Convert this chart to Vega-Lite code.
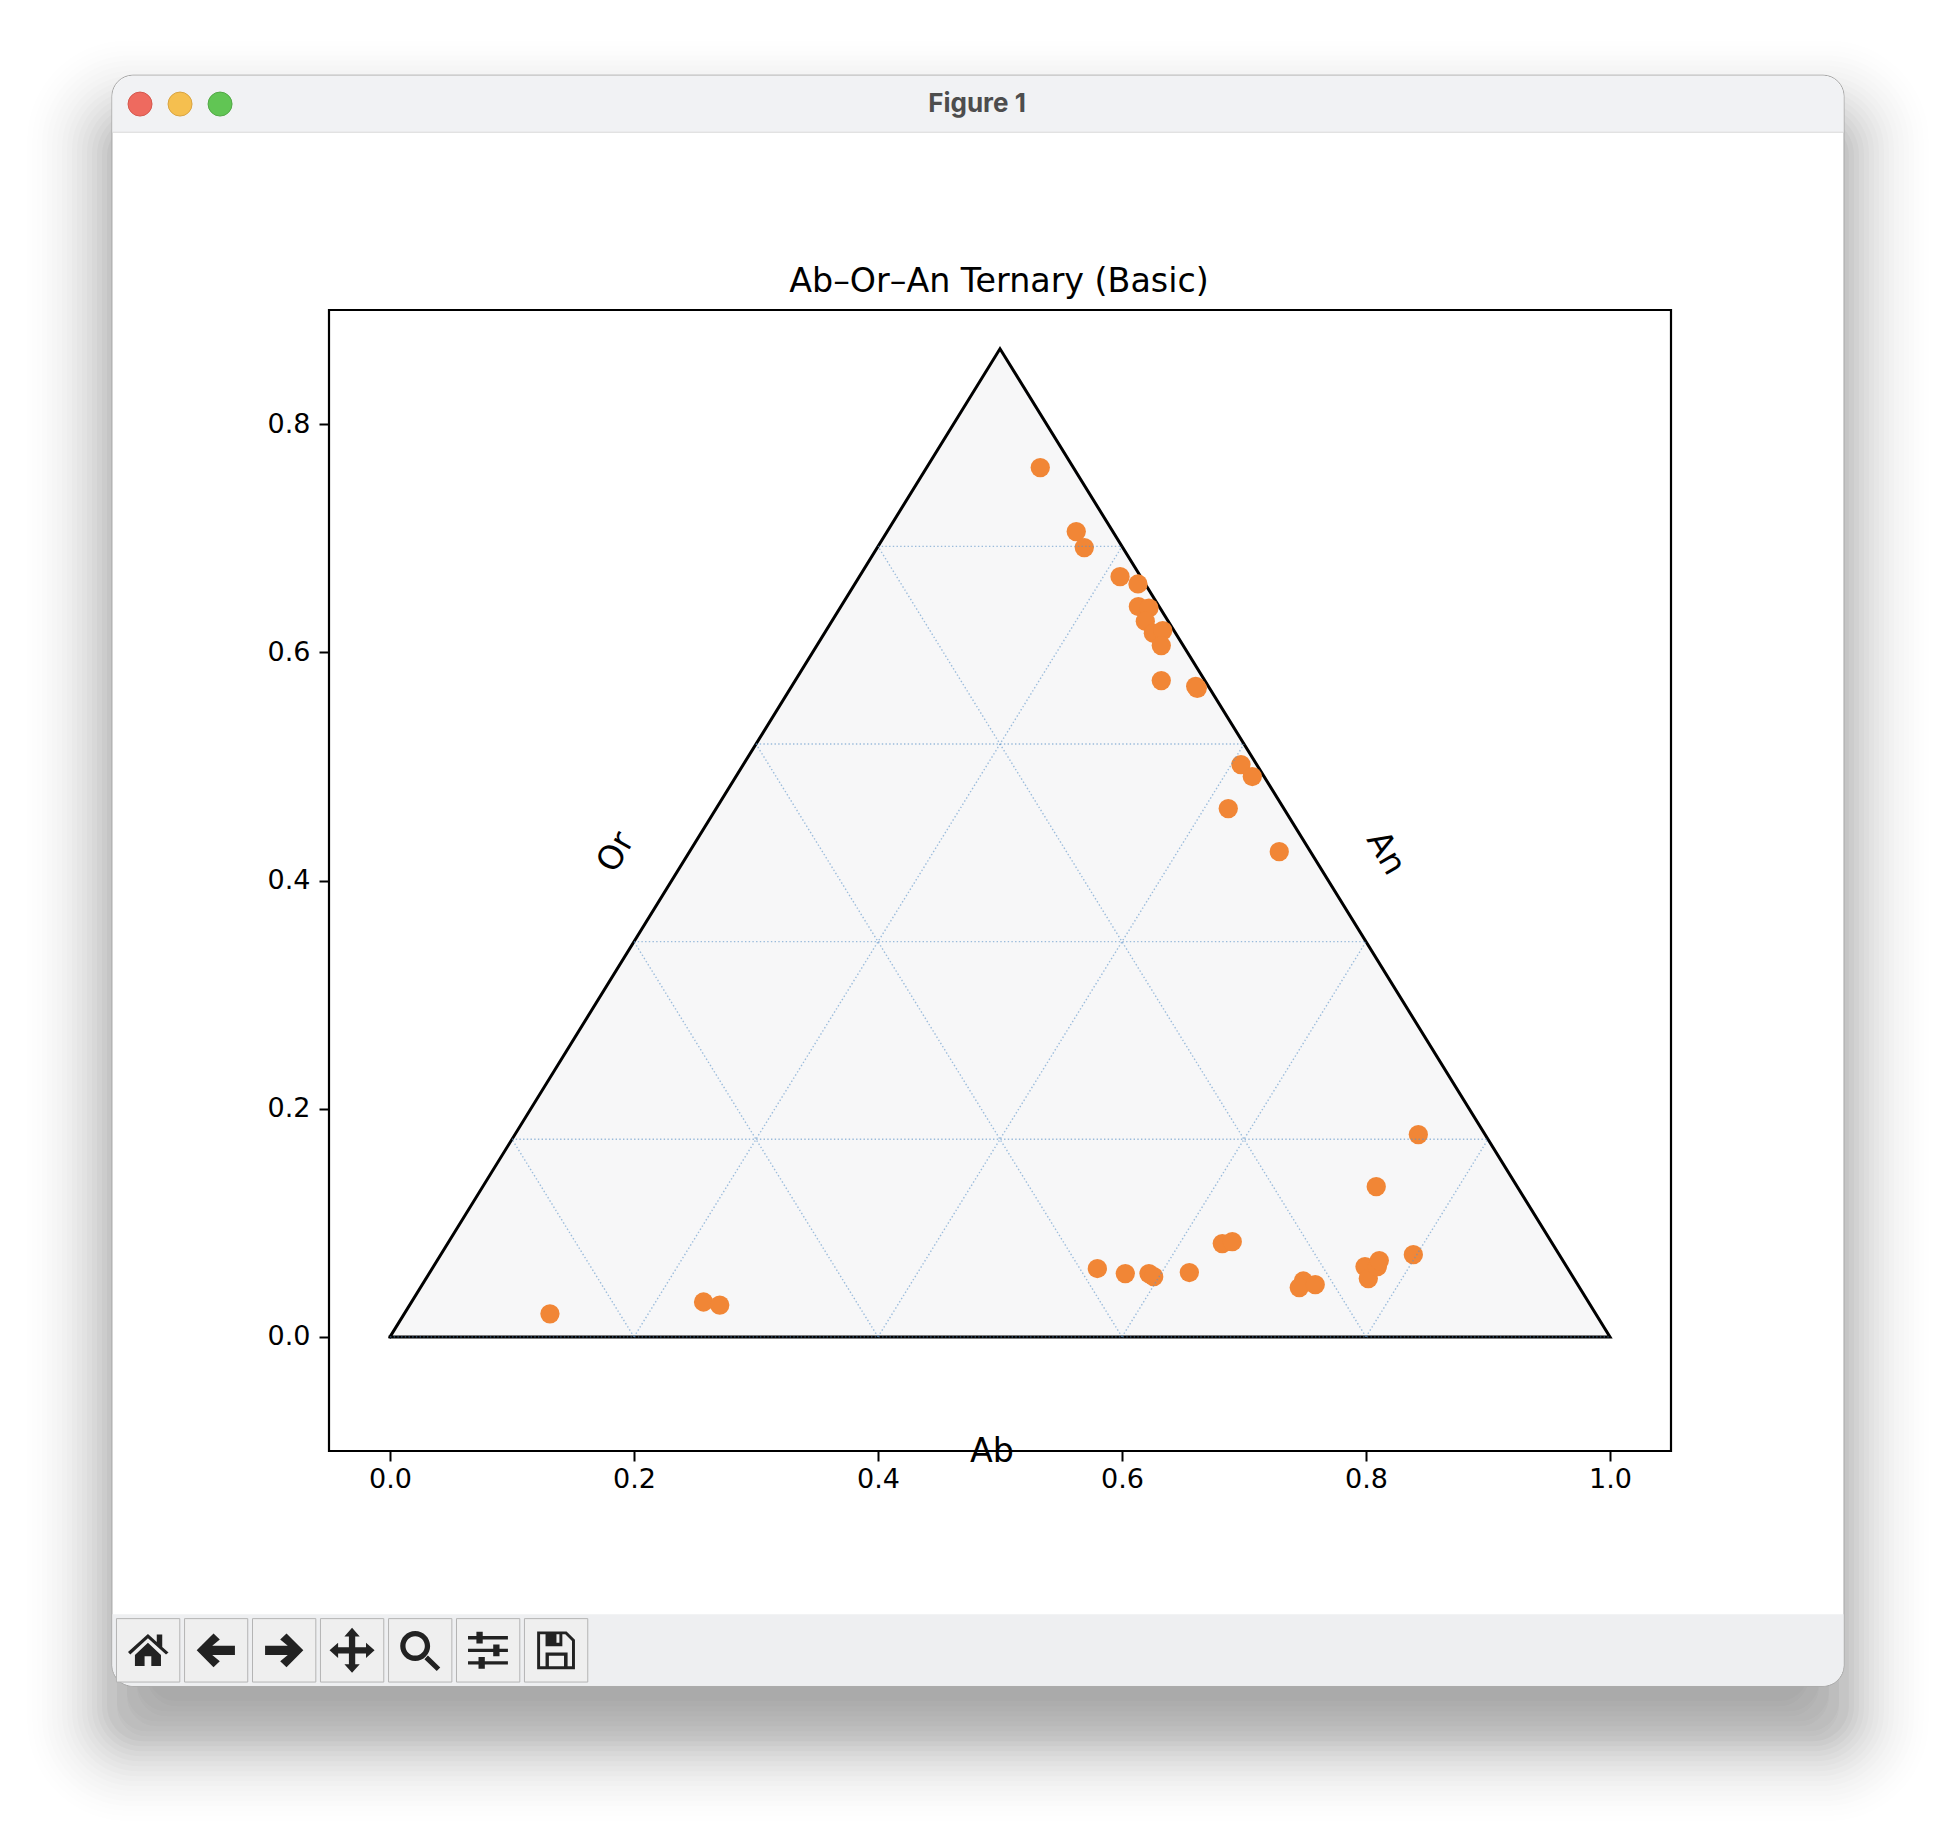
{"$schema":"https://vega.github.io/schema/vega-lite/v6.json","width":1342,"height":1141,"autosize":{"type":"none"},"padding":{"left":329,"top":310,"right":285,"bottom":383},"background":"#ffffff",
"config":{"view":{"stroke":null},"axis":{"domain":false,"grid":false,"ticks":true,"tickSize":10,"tickWidth":2,"tickColor":"#000000","labelFont":"DejaVu Sans","labelFontSize":27,"labelColor":"#000000","title":null,"labelFlush":false,"labelOverlap":false}},
"datasets":{
"triangle":[{"x":0,"y":0,"y0":0,"o":1},{"x":0.5,"y":0.8660254,"y0":0,"o":2},{"x":1,"y":0,"y0":0,"o":3},{"x":0,"y":0,"y0":0,"o":4}],
"grid":[
{"x1":0.1,"y1":0.1732,"x2":0.9,"y2":0.1732},{"x1":0.2,"y1":0.3464,"x2":0.8,"y2":0.3464},{"x1":0.3,"y1":0.5196,"x2":0.7,"y2":0.5196},{"x1":0.4,"y1":0.6928,"x2":0.6,"y2":0.6928},
{"x1":0.2,"y1":0,"x2":0.6,"y2":0.6928},{"x1":0.4,"y1":0,"x2":0.7,"y2":0.5196},{"x1":0.6,"y1":0,"x2":0.8,"y2":0.3464},{"x1":0.8,"y1":0,"x2":0.9,"y2":0.1732},
{"x1":0.2,"y1":0,"x2":0.1,"y2":0.1732},{"x1":0.4,"y1":0,"x2":0.2,"y2":0.3464},{"x1":0.6,"y1":0,"x2":0.3,"y2":0.5196},{"x1":0.8,"y1":0,"x2":0.4,"y2":0.6928},
{"x1":0,"y1":0,"x2":1,"y2":0}],
"points":[
{"x":0.5330,"y":0.7619},{"x":0.5625,"y":0.7058},{"x":0.5691,"y":0.6918},{"x":0.5984,"y":0.6663},{"x":0.6131,"y":0.6599},{"x":0.6134,"y":0.6401},{"x":0.6221,"y":0.6388},{"x":0.6191,"y":0.6272},{"x":0.6257,"y":0.6167},{"x":0.6334,"y":0.6190},{"x":0.6322,"y":0.6059},{"x":0.6322,"y":0.5752},{"x":0.6604,"y":0.5702},{"x":0.6617,"y":0.5684},{"x":0.6975,"y":0.5016},{"x":0.7068,"y":0.4911},{"x":0.6871,"y":0.4630},{"x":0.7289,"y":0.4253},
{"x":0.5798,"y":0.0599},{"x":0.6027,"y":0.0555},{"x":0.6221,"y":0.0555},{"x":0.6260,"y":0.0528},{"x":0.6552,"y":0.0564},{"x":0.6822,"y":0.0818},{"x":0.6904,"y":0.0835},{"x":0.7486,"y":0.0490},{"x":0.7453,"y":0.0432},{"x":0.7584,"y":0.0458},{"x":0.7992,"y":0.0616},{"x":0.8019,"y":0.0511},{"x":0.8093,"y":0.0616},{"x":0.8109,"y":0.0669},{"x":0.8388,"y":0.0721},{"x":0.8084,"y":0.1317},{"x":0.8429,"y":0.1773},
{"x":0.1311,"y":0.0202},{"x":0.2570,"y":0.0306},{"x":0.2703,"y":0.0279}]
},
"data":{"values":[{"row":1}]},
"layer":[
{"mark":{"type":"rect","fill":"#000000","opacity":0.003,"cornerRadius":100},"encoding":{"x":{"datum":-0.2976,"scale":{"domain":[-0.05,1.05],"nice":false,"zero":false},"axis":{"values":[0,0.2,0.4,0.6,0.8,1],"zindex":1,"format":".1f","labelPadding":5}},"x2":{"datum":1.2615},"y":{"datum":-0.4245,"scale":{"domain":[-0.1,0.9],"nice":false,"zero":false},"axis":{"values":[0,0.2,0.4,0.6,0.8],"zindex":1,"format":".1f","labelPadding":9}},"y2":{"datum":1.1364}}},
{"mark":{"type":"rect","fill":"#000000","opacity":0.004,"cornerRadius":96},"encoding":{"x":{"datum":-0.2935},"x2":{"datum":1.2574},"y":{"datum":-0.4201},"y2":{"datum":1.1320}}},
{"mark":{"type":"rect","fill":"#000000","opacity":0.005,"cornerRadius":92},"encoding":{"x":{"datum":-0.2894},"x2":{"datum":1.2533},"y":{"datum":-0.4157},"y2":{"datum":1.1276}}},
{"mark":{"type":"rect","fill":"#000000","opacity":0.006,"cornerRadius":88},"encoding":{"x":{"datum":-0.2853},"x2":{"datum":1.2492},"y":{"datum":-0.4113},"y2":{"datum":1.1232}}},
{"mark":{"type":"rect","fill":"#000000","opacity":0.007,"cornerRadius":84},"encoding":{"x":{"datum":-0.2812},"x2":{"datum":1.2451},"y":{"datum":-0.4070},"y2":{"datum":1.1189}}},
{"mark":{"type":"rect","fill":"#000000","opacity":0.008,"cornerRadius":80},"encoding":{"x":{"datum":-0.2771},"x2":{"datum":1.2410},"y":{"datum":-0.4026},"y2":{"datum":1.1145}}},
{"mark":{"type":"rect","fill":"#000000","opacity":0.009,"cornerRadius":76},"encoding":{"x":{"datum":-0.2730},"x2":{"datum":1.2369},"y":{"datum":-0.3982},"y2":{"datum":1.1101}}},
{"mark":{"type":"rect","fill":"#000000","opacity":0.01,"cornerRadius":72},"encoding":{"x":{"datum":-0.2689},"x2":{"datum":1.2328},"y":{"datum":-0.3938},"y2":{"datum":1.1057}}},
{"mark":{"type":"rect","fill":"#000000","opacity":0.012,"cornerRadius":68},"encoding":{"x":{"datum":-0.2648},"x2":{"datum":1.2287},"y":{"datum":-0.3894},"y2":{"datum":1.1013}}},
{"mark":{"type":"rect","fill":"#000000","opacity":0.014,"cornerRadius":64},"encoding":{"x":{"datum":-0.2607},"x2":{"datum":1.2246},"y":{"datum":-0.3851},"y2":{"datum":1.0970}}},
{"mark":{"type":"rect","fill":"#000000","opacity":0.015,"cornerRadius":60},"encoding":{"x":{"datum":-0.2566},"x2":{"datum":1.2205},"y":{"datum":-0.3807},"y2":{"datum":1.0926}}},
{"mark":{"type":"rect","fill":"#000000","opacity":0.016,"cornerRadius":56},"encoding":{"x":{"datum":-0.2525},"x2":{"datum":1.2164},"y":{"datum":-0.3763},"y2":{"datum":1.0882}}},
{"mark":{"type":"rect","fill":"#000000","opacity":0.018,"cornerRadius":52},"encoding":{"x":{"datum":-0.2484},"x2":{"datum":1.2123},"y":{"datum":-0.3719},"y2":{"datum":1.0838}}},
{"mark":{"type":"rect","fill":"#000000","opacity":0.02,"cornerRadius":48},"encoding":{"x":{"datum":-0.2443},"x2":{"datum":1.2082},"y":{"datum":-0.3675},"y2":{"datum":1.0794}}},
{"mark":{"type":"rect","fill":"#000000","opacity":0.022,"cornerRadius":44},"encoding":{"x":{"datum":-0.2402},"x2":{"datum":1.2041},"y":{"datum":-0.3631},"y2":{"datum":1.0750}}},
{"mark":{"type":"rect","fill":"#000000","opacity":0.026,"cornerRadius":40},"encoding":{"x":{"datum":-0.2361},"x2":{"datum":1.2000},"y":{"datum":-0.3588},"y2":{"datum":1.0707}}},
{"mark":{"type":"rect","fill":"#000000","opacity":0.03,"cornerRadius":36},"encoding":{"x":{"datum":-0.2320},"x2":{"datum":1.1959},"y":{"datum":-0.3544},"y2":{"datum":1.0663}}},
{"mark":{"type":"rect","fill":"#000000","opacity":0.02,"cornerRadius":30},"encoding":{"x":{"datum":-0.2238},"x2":{"datum":1.1877},"y":{"datum":-0.3500},"y2":{"datum":1.0575}}},
{"mark":{"type":"rect","fill":"#000000","opacity":0.018,"cornerRadius":30},"encoding":{"x":{"datum":-0.2238},"x2":{"datum":1.1877},"y":{"datum":-0.3456},"y2":{"datum":1.0575}}},
{"mark":{"type":"rect","fill":"#000000","opacity":0.018,"cornerRadius":30},"encoding":{"x":{"datum":-0.2156},"x2":{"datum":1.1795},"y":{"datum":-0.3412},"y2":{"datum":1.0488}}},
{"mark":{"type":"rect","fill":"#000000","opacity":0.016,"cornerRadius":30},"encoding":{"x":{"datum":-0.2156},"x2":{"datum":1.1795},"y":{"datum":-0.3369},"y2":{"datum":1.0488}}},
{"mark":{"type":"rect","fill":"#000000","opacity":0.016,"cornerRadius":30},"encoding":{"x":{"datum":-0.2074},"x2":{"datum":1.1713},"y":{"datum":-0.3325},"y2":{"datum":1.04}}},
{"mark":{"type":"rect","fill":"#000000","opacity":0.014,"cornerRadius":30},"encoding":{"x":{"datum":-0.2074},"x2":{"datum":1.1713},"y":{"datum":-0.3281},"y2":{"datum":1.04}}},
{"mark":{"type":"rect","fill":"#000000","opacity":0.014,"cornerRadius":30},"encoding":{"x":{"datum":-0.1992},"x2":{"datum":1.1631},"y":{"datum":-0.3237},"y2":{"datum":1.03}}},
{"mark":{"type":"rect","fill":"#000000","opacity":0.012,"cornerRadius":30},"encoding":{"x":{"datum":-0.1992},"x2":{"datum":1.1631},"y":{"datum":-0.3193},"y2":{"datum":1.03}}},
{"mark":{"type":"rect","fill":"#ffffff","stroke":"#a6a6a6","strokeWidth":1,"cornerRadius":21},"encoding":{"x":{"datum":-0.2279},"x2":{"datum":1.1918},"y":{"datum":-0.3062},"y2":{"datum":1.1058}}},
{"mark":{"type":"rect","fill":"#f1f2f4","cornerRadiusTopLeft":21,"cornerRadiusTopRight":21},"encoding":{"x":{"datum":-0.2275},"x2":{"datum":1.1914},"y":{"datum":1.0558},"y2":{"datum":1.1054}}},
{"mark":{"type":"rule","stroke":"#d9d9d9","strokeWidth":1},"encoding":{"x":{"datum":-0.2275},"x2":{"datum":1.1914},"y":{"datum":1.0558}}},
{"mark":{"type":"rect","fill":"#eeeff1","cornerRadiusBottomLeft":21,"cornerRadiusBottomRight":21},"encoding":{"x":{"datum":-0.2275},"x2":{"datum":1.1914},"y":{"datum":-0.3058},"y2":{"datum":-0.2431}}},
{"mark":{"type":"circle","size":576,"fill":"#ee6a5f","stroke":"#d5574d","strokeWidth":1,"opacity":1},"encoding":{"x":{"datum":-0.2049},"y":{"datum":1.0805}}},
{"mark":{"type":"circle","size":576,"fill":"#f5bf4f","stroke":"#d9a441","strokeWidth":1,"opacity":1},"encoding":{"x":{"datum":-0.1721},"y":{"datum":1.0805}}},
{"mark":{"type":"circle","size":576,"fill":"#61c554","stroke":"#52a846","strokeWidth":1,"opacity":1},"encoding":{"x":{"datum":-0.1393},"y":{"datum":1.0805}}},
{"mark":{"type":"text","text":"Figure 1","font":"Inter","fontWeight":"bold","fontSize":26,"fill":"#4d4d4d","align":"center","baseline":"middle"},"encoding":{"x":{"datum":0.4812},"y":{"datum":1.0805}}},
{"mark":{"type":"rect","fill":"#efefef","stroke":"#b4b4b4","strokeWidth":1},"encoding":{"x":{"datum":-0.2242},"x2":{"datum":-0.1723},"y":{"datum":-0.3025},"y2":{"datum":-0.2469}}},
{"mark":{"type":"rect","fill":"#efefef","stroke":"#b4b4b4","strokeWidth":1},"encoding":{"x":{"datum":-0.1684},"x2":{"datum":-0.1166},"y":{"datum":-0.3025},"y2":{"datum":-0.2469}}},
{"mark":{"type":"rect","fill":"#efefef","stroke":"#b4b4b4","strokeWidth":1},"encoding":{"x":{"datum":-0.1127},"x2":{"datum":-0.0608},"y":{"datum":-0.3025},"y2":{"datum":-0.2469}}},
{"mark":{"type":"rect","fill":"#efefef","stroke":"#b4b4b4","strokeWidth":1},"encoding":{"x":{"datum":-0.0570},"x2":{"datum":-0.0051},"y":{"datum":-0.3025},"y2":{"datum":-0.2469}}},
{"mark":{"type":"rect","fill":"#efefef","stroke":"#b4b4b4","strokeWidth":1},"encoding":{"x":{"datum":-0.0012},"x2":{"datum":0.0507},"y":{"datum":-0.3025},"y2":{"datum":-0.2469}}},
{"mark":{"type":"rect","fill":"#efefef","stroke":"#b4b4b4","strokeWidth":1},"encoding":{"x":{"datum":0.0545},"x2":{"datum":0.1064},"y":{"datum":-0.3025},"y2":{"datum":-0.2469}}},
{"mark":{"type":"rect","fill":"#efefef","stroke":"#b4b4b4","strokeWidth":1},"encoding":{"x":{"datum":0.1102},"x2":{"datum":0.1621},"y":{"datum":-0.3025},"y2":{"datum":-0.2469}}},
{"mark":{"type":"point","filled":true,"opacity":1,"fill":"#222222","size":1764,"shape":"M-.95 .08 L0 -.78 L.42 -.4 V-.75 H.68 V-.16 L.98 .1 L.86 .2 L0 -.58 L-.84 .2 Z M-.62 .22 L0 -.36 L.62 .22 V.75 H.16 V.28 H-.16 V.75 H-.62 Z"},"encoding":{"x":{"datum":-0.1984},"y":{"datum":-0.2747}}},
{"mark":{"type":"point","filled":true,"opacity":1,"fill":"#222222","size":1764,"shape":"M-.92 0 L-.12 -.8 L.18 -.52 L-.18 -.22 H.9 V.22 H-.18 L.18 .52 L-.12 .8 Z"},"encoding":{"x":{"datum":-0.1426},"y":{"datum":-0.2747}}},
{"mark":{"type":"point","filled":true,"opacity":1,"fill":"#222222","size":1764,"shape":"M.92 0 L.12 -.8 L-.18 -.52 L.18 -.22 H-.9 V.22 H.18 L-.18 .52 L.12 .8 Z"},"encoding":{"x":{"datum":-0.0869},"y":{"datum":-0.2747}}},
{"mark":{"type":"point","filled":true,"opacity":1,"fill":"#222222","size":2025,"shape":"M0 -1 L.34 -.62 H.14 V-.14 H.62 V-.34 L1 0 L.62 .34 V.14 H.14 V.62 H.34 L0 1 L-.34 .62 H-.14 V.14 H-.62 V.34 L-1 0 L-.62 -.34 V-.14 H-.14 V-.62 H-.34 Z"},"encoding":{"x":{"datum":-0.0311},"y":{"datum":-0.2747}}},
{"mark":{"type":"point","filled":true,"opacity":1,"fill":"#222222","size":1936,"shape":"M-.9 -.2 A.68 .68 0 1 1 .46 -.2 A.68 .68 0 1 1 -.9 -.2 Z M-.66 -.2 A.44 .44 0 1 0 .22 -.2 A.44 .44 0 1 0 -.66 -.2 Z M.2 .4 L.36 .24 L.92 .78 L.76 .94 Z"},"encoding":{"x":{"datum":0.0246},"y":{"datum":-0.2747}}},
{"mark":{"type":"point","filled":true,"opacity":1,"fill":"#222222","size":1764,"shape":"M-.95 -.68 H-.55 V-.88 H-.25 V-.68 H.95 V-.52 H-.25 V-.32 H-.55 V-.52 H-.95 Z M-.95 -.08 H.25 V-.28 H.55 V-.08 H.95 V.08 H.55 V.28 H.25 V.08 H-.95 Z M-.95 .52 H-.45 V.32 H-.15 V.52 H.95 V.68 H-.15 V.88 H-.45 V.68 H-.95 Z"},"encoding":{"x":{"datum":0.0803},"y":{"datum":-0.2747}}},
{"mark":{"type":"point","filled":true,"opacity":1,"fill":"#222222","size":1764,"shape":"M-.9 -.9 H.5 L.9 -.5 V.9 H-.9 Z M-.76 -.76 V.76 H-.5 V.1 H.55 V.76 H.76 V-.44 L.44 -.76 H.3 V-.2 H-.5 V-.76 Z M-.34 .26 V.76 H.38 V.26 Z M.02 -.76 V-.36 H.16 V-.76 Z"},"encoding":{"x":{"datum":0.1361},"y":{"datum":-0.2747}}},
{"mark":{"type":"rect","fillOpacity":0,"stroke":"#000000","strokeWidth":2.2},"encoding":{"x":{"datum":-0.05},"x2":{"datum":1.05},"y":{"datum":-0.1},"y2":{"datum":0.9}}},
{"data":{"name":"triangle"},"mark":{"type":"area","fill":"#f7f7f8","line":false,"opacity":1},"encoding":{"x":{"field":"x","type":"quantitative"},"y":{"field":"y","type":"quantitative"},"y2":{"field":"y0"}}},
{"data":{"name":"triangle"},"mark":{"type":"line","stroke":"#000000","strokeWidth":3,"strokeJoin":"miter","strokeCap":"square"},"encoding":{"x":{"field":"x","type":"quantitative"},"y":{"field":"y","type":"quantitative"},"order":{"field":"o","type":"quantitative"}}},
{"data":{"name":"points"},"mark":{"type":"circle","size":372,"fill":"#f18636","opacity":1},"encoding":{"x":{"field":"x","type":"quantitative"},"y":{"field":"y","type":"quantitative"}}},
{"data":{"name":"grid"},"mark":{"type":"rule","stroke":"#5b92c8","strokeWidth":1.4,"strokeDash":[1.4,2.3],"opacity":0.6},"encoding":{"x":{"field":"x1","type":"quantitative"},"x2":{"field":"x2"},"y":{"field":"y1","type":"quantitative"},"y2":{"field":"y2"}}},
{"mark":{"type":"text","text":"Ab–Or–An Ternary (Basic)","font":"DejaVu Sans","fontSize":33.3,"fill":"#000000","align":"center","baseline":"middle"},"encoding":{"x":{"datum":0.4992},"y":{"datum":0.9243}}},
{"mark":{"type":"text","text":"Or","font":"DejaVu Sans","fontSize":33.3,"fill":"#000000","angle":300,"align":"center","baseline":"middle"},"encoding":{"x":{"datum":0.1854},"y":{"datum":0.4247}}},
{"mark":{"type":"text","text":"An","font":"DejaVu Sans","fontSize":33.3,"fill":"#000000","angle":60,"align":"center","baseline":"middle"},"encoding":{"x":{"datum":0.8161},"y":{"datum":0.4238}}},
{"mark":{"type":"text","text":"Ab","font":"DejaVu Sans","fontSize":33.3,"fill":"#000000","align":"center","baseline":"middle"},"encoding":{"x":{"datum":0.4934},"y":{"datum":-0.1009}}}
]}
